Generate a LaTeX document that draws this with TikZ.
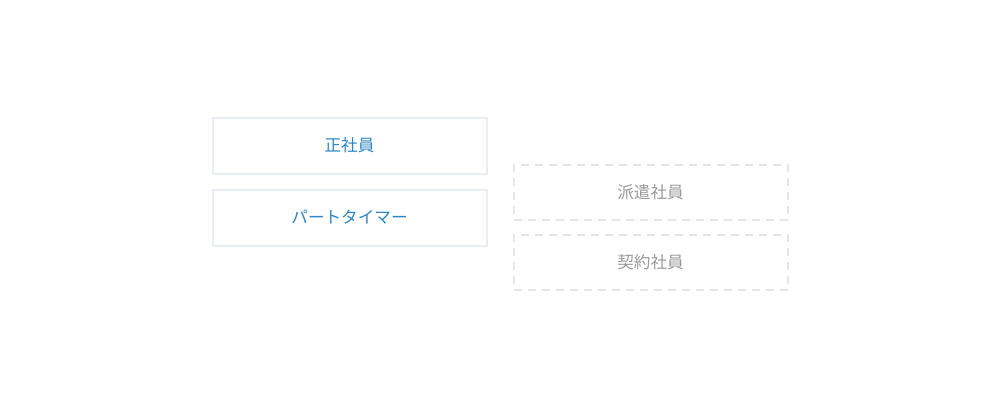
\documentclass[tikz,border=0pt]{standalone}
\usepackage{fontspec}
\newfontfamily\cjk{Noto Sans CJK JP}
\definecolor{bluetext}{HTML}{2A86C4}
\definecolor{blueborder}{HTML}{E8EEF7}
\definecolor{greytext}{HTML}{999999}
\definecolor{greyborder}{HTML}{E6E6E6}
\begin{document}
\begin{tikzpicture}[x=1pt,y=-1pt,
  solidbox/.style={draw=blueborder,line width=2pt,minimum width=274pt,minimum height=56pt,inner sep=0pt,text=bluetext,font=\cjk\fontsize{16.6pt}{19pt}\selectfont},
  dashbox/.style={draw=greyborder,line width=2pt,dash pattern=on 8pt off 6pt,minimum width=274pt,minimum height=55pt,inner sep=0pt,text=greytext,font=\cjk\fontsize{16.6pt}{19pt}\selectfont}]
\useasboundingbox (0,0) rectangle (1000,400);
\node[solidbox] (sei) at (349.5,145.5) {正社員};
\node[solidbox] (part) at (349.5,217.5) {パートタイマー};
\node[dashbox] (haken) at (650.5,192) {派遣社員};
\node[dashbox] (keiyaku) at (650.5,262) {契約社員};
\end{tikzpicture}
\end{document}
